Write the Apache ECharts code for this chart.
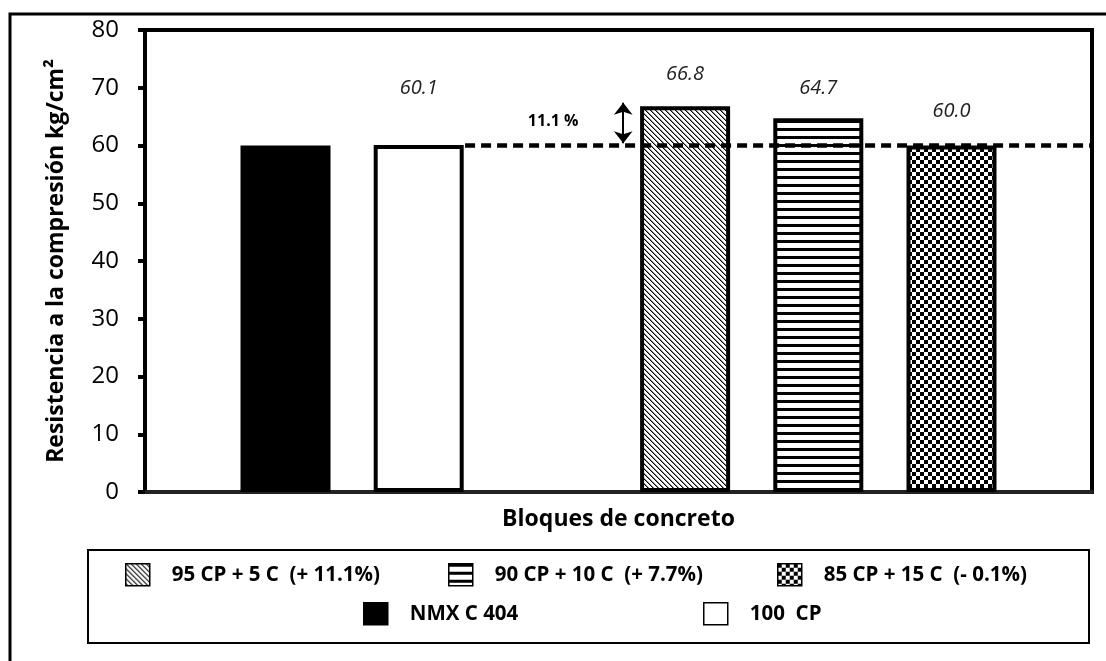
<!DOCTYPE html>
<html>
<head>
<meta charset="utf-8">
<script src="https://cdn.jsdelivr.net/npm/echarts@6/dist/echarts.min.js"></script>
<style>
    html, body { margin: 0; padding: 0; background: #fff; }
    #main { width: 1106px; height: 661px; }
</style>
</head>
<body>
<div id="main"></div>
<script>
// data
const categories = ['Bloques de concreto']
const seriesNames = ['NMX C 404', '100  CP', '', '95 CP + 5 C  (+ 11.1%)', '90 CP + 10 C  (+ 7.7%)', '85 CP + 15 C  (- 0.1%)']
const seriesValues = [60.0, 60.1, null, 66.8, 64.7, 60.0]
const yMin = 0
const yMax = 80
const yInterval = 10
const refLine = [[0.338, 60], [1, 60]]
const arrowEnds = [[0.505, 60.4], [0.505, 67.4]]
const increaseText = ['11.1 %']
const increasePos = [0.431, 64.1]

const font = '"Open Sans"'

function makePattern(size, paint) {
    const c = document.createElement('canvas')
    c.width = size
    c.height = size
    const ctx = c.getContext('2d')
    ctx.fillStyle = '#fff'
    ctx.fillRect(0, 0, size, size)
    for (let y = 0; y < size; y++) {
        for (let x = 0; x < size; x++) {
            const v = paint(x, y)
            if (v) {
                ctx.fillStyle = v
                ctx.fillRect(x, y, 1, 1)
            }
        }
    }
    return { image: c, repeat: 'repeat' }
}

const diagonal = makePattern(10, (x, y) => {
    const k = ((x - y) % 5 + 5) % 5
    return k === 0 ? '#000' : k === 1 ? '#888' : null
})
const stripes = makePattern(8, (x, y) => y < 3 ? '#000' : null)
const checker = makePattern(8, (x, y) => ((x >> 2) + (y >> 2)) % 2 === 0 ? '#000' : null)

function getOption() {
    const fills = ['#000', '#fff', '#fff', diagonal, stripes, checker]
    const labelGap = [0, 47, 0, 22, 20, 24]
    const bars = seriesNames.map((name, i) => ({
        name: name,
        type: 'bar',
        barWidth: 90,
        barGap: '48%',
        data: [seriesValues[i]],
        itemStyle: { color: fills[i], borderColor: '#000', borderWidth: 4 },
        label: {
            show: i !== 0 && seriesValues[i] != null,
            position: 'top',
            distance: labelGap[i],
            formatter: p => p.value.toFixed(1),
            fontFamily: font,
            fontStyle: 'italic',
            fontSize: 20,
            color: '#222'
        }
    }))

    const guide = {
        type: 'line',
        xAxisIndex: 1,
        data: refLine,
        symbol: 'none',
        silent: true,
        lineStyle: { color: '#000', width: 4.5, type: [10, 6] },
        markLine: {
            silent: true,
            symbol: ['arrow', 'arrow'],
            symbolSize: [14, 12],
            lineStyle: { color: '#000', width: 2, type: 'solid' },
            label: { show: false },
            data: [[{ coord: arrowEnds[0] }, { coord: arrowEnds[1] }]]
        },
        markPoint: {
            symbol: 'rect',
            symbolSize: 1,
            itemStyle: { color: 'rgba(0,0,0,0)' },
            label: {
                show: true,
                formatter: increaseText[0],
                fontFamily: font,
                fontWeight: 'bold',
                fontSize: 16,
                color: '#000'
            },
            data: [{ coord: increasePos }]
        }
    }

    const legendSpots = [[125, 563], [448, 563], [777, 563], [363, 602], [703, 602]]
    const legendOrder = [3, 4, 5, 0, 1]
    const legends = legendOrder.map((si, k) => ({
        data: [seriesNames[si]],
        left: legendSpots[k][0],
        top: legendSpots[k][1],
        padding: 0,
        itemWidth: 24,
        itemHeight: 22,
        icon: 'rect',
        selectedMode: false,
        itemStyle: { borderColor: '#000', borderWidth: 1.5 },
        formatter: n => '{t|' + n + '}',
        textStyle: {
            fontFamily: font,
            fontWeight: 'bold',
            fontSize: 20.5,
            color: '#000',
            rich: { t: { fontFamily: font, fontWeight: 'bold', fontSize: 20.5, color: '#000', padding: [0, 0, 0, 17] } }
        }
    }))

    return {
        animation: false,
        backgroundColor: '#fff',
        grid: {
            left: 145, right: 14, top: 30, bottom: 169,
            show: true, borderColor: '#000', borderWidth: 4
        },
        xAxis: [{
            type: 'category',
            data: categories,
            axisTick: { show: false },
            axisLine: { show: true, lineStyle: { color: '#222', width: 4 } },
            axisLabel: { fontFamily: font, fontWeight: 'bold', fontSize: 23, color: '#000', margin: 16 }
        }, {
            type: 'value',
            min: 0,
            max: 1,
            show: false
        }],
        yAxis: {
            type: 'value',
            min: yMin,
            max: yMax,
            interval: yInterval,
            name: 'Resistencia a la compresión kg/cm²',
            nameLocation: 'middle',
            nameGap: 77,
            nameTextStyle: { fontFamily: font, fontWeight: 'bold', fontSize: 23, color: '#000' },
            axisLine: { show: true, lineStyle: { color: '#000', width: 4 } },
            axisTick: { show: true, length: 7, lineStyle: { color: '#000', width: 4 } },
            axisLabel: { fontFamily: font, fontSize: 24, color: '#000', margin: 26 },
            splitLine: { show: false }
        },
        legend: legends,
        graphic: [{
            type: 'rect',
            silent: true,
            z: -1,
            shape: { x: 10, y: 14, width: 1200, height: 800 },
            style: { fill: 'none', stroke: '#000', lineWidth: 3 }
        }, {
            type: 'rect',
            silent: true,
            shape: { x: 88, y: 550, width: 1001, height: 93 },
            style: { fill: 'none', stroke: '#000', lineWidth: 2 }
        }],
        series: bars.concat([guide])
    }
}

const myChart = echarts.init(document.getElementById('main'))
myChart.setOption(getOption())
</script>
</body>
</html>
